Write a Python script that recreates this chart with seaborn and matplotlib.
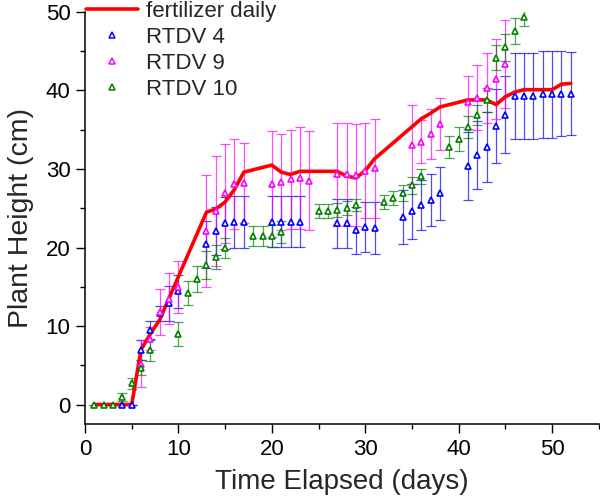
import matplotlib
matplotlib.use("Agg")
import matplotlib.pyplot as plt
import pandas as pd
import seaborn as sns
from matplotlib.lines import Line2D
from matplotlib.ticker import MultipleLocator

# fertilizer daily (line)
fert_days = [1, 5, 6, 7, 8, 10, 13, 14, 15, 16, 17, 20, 21, 22, 23, 27, 28, 29, 30, 31,
             36, 37, 38, 41, 43, 44, 45, 46, 47, 50, 51, 52]
fert_height = [0, 0, 7.0, 9.0, 10.8, 16.3, 24.5, 24.9, 25.8, 27.4, 29.6, 30.5, 29.6, 29.3, 29.7,
               29.7, 29.1, 28.85, 29.8, 31.3, 36.4, 37.1, 37.9, 38.8, 38.8, 38.2, 39.2, 39.8,
               40.1, 40.1, 40.8, 40.9]

# RTDV 4
rtdv4_days = [4, 5, 6, 7, 8, 9, 10, 13, 14, 15, 16, 17, 20, 21, 22, 23, 27, 28, 29, 30, 31,
              34, 35, 36, 37, 38, 41, 42, 43, 44, 45, 46, 47, 48, 49, 50, 51, 52]
rtdv4_mean = [0, 0, 6.95, 9.5, 11.6, 12.9, 14.4, 20.4, 22.1, 23.1, 23.2, 23.3, 23.3, 23.3, 23.3,
              23.3, 23.1, 23.1, 22.2, 22.6, 22.5, 23.9, 24.6, 25.4, 26.1, 26.9, 30.4, 31.8, 32.8,
              35.5, 36.9, 39.3, 39.3, 39.3, 39.5, 39.5, 39.6, 39.6]
rtdv4_err = [0, 0, 1.3, 1.2, 1.0, 2.2, 2.1, 3.0, 3.0, 3.3, 3.3, 3.3, 3.2, 3.2, 3.2, 3.2, 3.1,
             3.1, 3.0, 3.2, 3.3, 3.4, 3.5, 3.2, 3.3, 3.4, 4.3, 4.3, 4.5, 4.7, 4.9, 5.5, 5.5,
             5.5, 5.5, 5.5, 5.4, 5.3]

# RTDV 9
rtdv9_days = [6, 7, 8, 9, 10, 13, 14, 15, 16, 17, 20, 21, 22, 23, 24, 27, 28, 29, 30, 31,
              35, 36, 37, 38, 41, 42, 43, 44, 45]
rtdv9_mean = [5.2, 8.4, 11.8, 13.5, 15.0, 22.1, 24.6, 26.9, 28.1, 28.2, 28.1, 28.3, 28.7, 28.8,
              28.5, 29.3, 29.3, 29.2, 29.8, 30.1, 33.1, 33.5, 34.5, 35.7, 38.5, 39.1, 40.3,
              41.5, 43.4]
rtdv9_err = [3.0, 1.5, 2.9, 3.3, 3.3, 7.1, 7.0, 6.3, 5.7, 5.1, 6.7, 6.1, 6.3, 6.5, 6.3, 6.6,
             6.6, 6.5, 6.1, 6.3, 5.0, 2.8, 3.2, 3.3, 3.4, 4.1, 4.5, 5.1, 5.6]

# RTDV 10
rtdv10_days = [1, 2, 3, 4, 5, 6, 7, 10, 11, 12, 13, 14, 15, 18, 19, 20, 21, 25, 26, 27, 28, 29,
               32, 33, 34, 35, 36, 39, 40, 41, 42, 43, 44, 45, 46, 47]
rtdv10_mean = [0, 0, 0, 1.0, 2.7, 4.7, 6.9, 8.95, 14.2, 16.0, 17.8, 18.8, 19.9, 21.5, 21.5, 21.5,
               22.0, 24.7, 24.7, 24.8, 25.0, 25.4, 25.8, 26.3, 26.9, 27.9, 29.1, 32.8, 33.8,
               35.3, 36.9, 38.8, 44.2, 45.5, 47.6, 49.3]
rtdv10_err = [0, 0, 0, 0.5, 0.7, 1.0, 1.3, 1.5, 1.5, 1.7, 1.8, 1.5, 1.3, 1.3, 1.3, 1.4, 1.4,
              0.9, 0.9, 0.9, 0.9, 0.8, 0.85, 0.85, 1.0, 1.1, 0.95, 1.4, 1.5, 1.4, 1.3, 1.55,
              1.6, 1.7, 1.65, 1.1]

series = [
    ("RTDV 4", rtdv4_days, rtdv4_mean, rtdv4_err, "#0000ff"),
    ("RTDV 9", rtdv9_days, rtdv9_mean, rtdv9_err, "#ff00ff"),
    ("RTDV 10", rtdv10_days, rtdv10_mean, rtdv10_err, "#008000"),
]

sns.set_style("ticks")
plt.rcParams["font.family"] = ["Liberation Sans", "DejaVu Sans"]

fig, ax = plt.subplots(figsize=(6.0, 4.99), dpi=100)
fig.subplots_adjust(left=0.1417, right=0.998, top=0.976, bottom=0.150)

for name, d, m, e, c in series:
    ax.errorbar(d, m, yerr=e, fmt="none", ecolor=c, alpha=0.7, elinewidth=0.9,
                capsize=3.6, capthick=0.9, zorder=2)

fert = pd.DataFrame({"day": fert_days, "height": fert_height})
sns.lineplot(data=fert, x="day", y="height", ax=ax, color="#ff0000", linewidth=2.6,
             zorder=3, legend=False)

for name, d, m, e, c in series:
    ax.plot(d, m, linestyle="none", marker="^", markersize=5, markerfacecolor="white",
            markeredgecolor=c, markeredgewidth=1.2, zorder=4)

ax.set_xlim(0, 55)
ax.set_ylim(-2.5, 50)
ax.xaxis.set_major_locator(MultipleLocator(10))
ax.xaxis.set_minor_locator(MultipleLocator(5))
ax.yaxis.set_major_locator(MultipleLocator(10))
ax.yaxis.set_minor_locator(MultipleLocator(5))
ax.tick_params(which="major", direction="out", length=6.5, width=1.0, labelsize=16,
               color="black", labelcolor="black", pad=4)
ax.tick_params(which="minor", direction="out", length=3.5, width=1.0, color="black")
for side in ["top", "right"]:
    ax.spines[side].set_visible(False)
for side in ["left", "bottom"]:
    ax.spines[side].set_linewidth(1.1)
    ax.spines[side].set_color("black")

ax.set_xlabel("Time Elapsed (days)", fontsize=20, labelpad=7)
ax.set_ylabel("Plant Height (cm)", fontsize=20.5, labelpad=8)

handles = [Line2D([], [], color="#ff0000", linewidth=2.6)]
for name, d, m, e, c in series:
    handles.append(Line2D([], [], linestyle="none", marker="^", markersize=4,
                          markerfacecolor="white", markeredgecolor=c, markeredgewidth=1.1))
labels = ["fertilizer daily"] + [s[0] for s in series]
fig.legend(handles, labels, loc="upper left", bbox_to_anchor=(0.143, 0.998),
           frameon=False, fontsize=16, borderpad=0, borderaxespad=0,
           handlelength=2.35, handletextpad=0.35, labelspacing=0.22)

fig.savefig("out.png", dpi=100)
